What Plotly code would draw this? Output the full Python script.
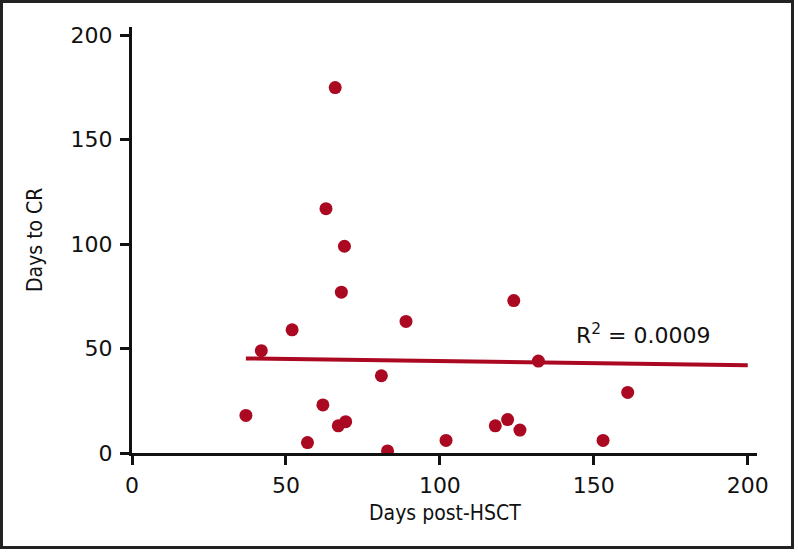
import plotly.graph_objects as go

# Data
days_post_hsct = [37, 42, 52, 57, 62, 63, 66, 67, 68, 69, 69.4, 81, 83, 89,
                  102, 118, 122, 124, 126, 132, 153, 161]
days_to_cr = [18, 49, 59, 5, 23, 117, 175, 13, 77, 99, 15, 37, 1, 63,
              6, 13, 16, 73, 11, 44, 6, 29]

# Linear fit shown in the chart
fit_x = [37, 200]
fit_intercept = 46.05
fit_slope = -0.0202
fit_y = [fit_intercept + fit_slope * x for x in fit_x]
r2_label = "R<sup>2</sup> = 0.0009"

x_ticks = [0, 50, 100, 150, 200]
y_ticks = [0, 50, 100, 150, 200]
x_title = "Days post-HSCT"
y_title = "Days to CR"

red = "#ab0822"
ink = "#111"
title_font = dict(family="Liberation Sans Narrow, DejaVu Sans Condensed", size=21, color=ink)

fig = go.Figure()
fig.add_trace(go.Scatter(x=fit_x, y=fit_y, mode="lines",
                         line=dict(color=red, width=4), hoverinfo="skip"))
fig.add_trace(go.Scatter(x=days_post_hsct, y=days_to_cr, mode="markers",
                         marker=dict(color=red, size=13, line=dict(width=0))))

fig.add_annotation(x=166, y=57, xref="x", yref="y", text=r2_label,
                   showarrow=False, font=dict(family="DejaVu Sans", size=22, color=ink))

# Axis titles
fig.add_annotation(x=0.5, y=(453 - 513) / 426, xref="paper", yref="paper",
                   text=x_title, showarrow=False, xanchor="center", yanchor="middle",
                   font=title_font)
fig.add_annotation(x=(35 - 132) / 625, y=0.5, xref="paper", yref="paper",
                   text=y_title, showarrow=False, xanchor="center", yanchor="middle",
                   textangle=-90, font=title_font)

axis_common = dict(showline=True, linewidth=3, linecolor=ink, ticks="outside",
                   tickwidth=3, ticklen=9, tickcolor=ink, showgrid=False,
                   zeroline=False, tickfont=dict(family="DejaVu Sans", size=22, color=ink))

fig.update_xaxes(range=[0, 203], tickvals=x_ticks, ticklabelstandoff=2, **axis_common)
fig.update_yaxes(range=[0, 204], tickvals=y_ticks, ticklabelstandoff=3, **axis_common)

# Outer frame
fig.add_shape(type="rect", xref="paper", yref="paper",
              x0=(1.5 - 132) / 625, x1=(792.5 - 132) / 625,
              y0=(453 - 547.5) / 426, y1=(453 - 1.5) / 426,
              line=dict(color="#222", width=3), fillcolor="rgba(0,0,0,0)")

fig.update_layout(width=798, height=553, margin=dict(l=132, r=41, t=27, b=100),
                  paper_bgcolor="white", plot_bgcolor="white", showlegend=False)

fig.write_html("out.html", config={"displayModeBar": False},
               post_script="document.body.style.margin='0';")
